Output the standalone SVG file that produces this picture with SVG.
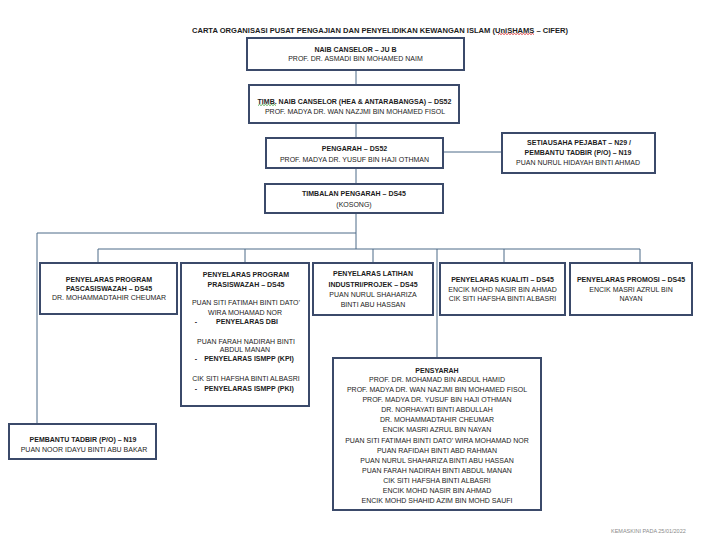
<svg xmlns="http://www.w3.org/2000/svg" width="709" height="543" viewBox="0 0 709 543">
<style>
text{font-family:"Liberation Sans",Arial,sans-serif;font-size:7px;fill:#1c1c1c;text-anchor:middle}
.b{font-weight:bold}
.t{font-weight:bold;font-size:7.4px}
.box{fill:#fff;stroke:#3b4a6a;stroke-width:2}
.con{stroke:#4d6a88;stroke-width:1;fill:none}
.sq{fill:none;stroke-width:0.8}
.foot{font-size:5.5px;fill:#8a8a8a;text-anchor:start}
</style>
<rect x="0" y="0" width="709" height="543" fill="#fff"/>
<text class="t" x="380" y="32.5" textLength="376" lengthAdjust="spacingAndGlyphs">CARTA ORGANISASI PUSAT PENGAJIAN DAN PENYELIDIKAN KEWANGAN ISLAM (UniSHAMS – CIFER)</text>
<path class="sq" stroke="#d02020" d="M498,34.5 l1.5,-1 l1.5,1 l1.5,-1 l1.5,1 l1.5,-1 l1.5,1 l1.5,-1 l1.5,1 l1.5,-1 l1.5,1 l1.5,-1 l1.5,1 l1.5,-1 l1.5,1 l1.5,-1 l1.5,1 l1.5,-1 l1.5,1 l1.5,-1 l1.5,1 l1.5,-1 l1.5,1 l1.5,-1 l1.5,1"/>
<g id="connectors">
<line class="con" x1="356" y1="70" x2="356" y2="85"/>
<line class="con" x1="356" y1="123" x2="356" y2="138"/>
<line class="con" x1="356" y1="168" x2="356" y2="184"/>
<line class="con" x1="356" y1="213" x2="356" y2="249"/>
<line class="con" x1="443" y1="152" x2="502" y2="152"/>
<line class="con" x1="37" y1="233" x2="356" y2="233"/>
<line class="con" x1="37" y1="233" x2="37" y2="424"/>
<line class="con" x1="98" y1="249" x2="640" y2="249"/>
<line class="con" x1="98" y1="249" x2="98" y2="263"/>
<line class="con" x1="245" y1="249" x2="245" y2="263"/>
<line class="con" x1="373" y1="249" x2="373" y2="263"/>
<line class="con" x1="504" y1="249" x2="504" y2="263"/>
<line class="con" x1="640" y1="249" x2="640" y2="263"/>
<line class="con" x1="437" y1="249" x2="437" y2="358"/>
</g>
<g id="naib-canselor">
<rect class="box" x="247" y="38" width="217" height="32"/>
<text class="b" x="355.5" y="51.5">NAIB CANSELOR – JU B</text>
<text x="355.5" y="60.5">PROF. DR. ASMADI BIN MOHAMED NAIM</text>
</g>
<g id="timb-naib-canselor">
<rect class="box" x="249" y="85" width="210" height="38"/>
<text class="b" x="354.5" y="103.5">TIMB. NAIB CANSELOR (HEA &amp; ANTARABANGSA) – DS52</text>
<path class="sq" stroke="#3a9a3a" d="M258,105.5 l1.5,-1 l1.5,1 l1.5,-1 l1.5,1 l1.5,-1 l1.5,1 l1.5,-1 l1.5,1 l1.5,-1 l1.5,1 l1.5,-1 l1.5,1"/>
<text x="355" y="113.5">PROF. MADYA DR. WAN NAZJMI BIN MOHAMED FISOL</text>
</g>
<g id="pengarah">
<rect class="box" x="266" y="138" width="177" height="30"/>
<text class="b" x="354.5" y="150.5">PENGARAH – DS52</text>
<text x="354.5" y="161.5">PROF. MADYA DR. YUSUF BIN HAJI OTHMAN</text>
</g>
<g id="setiausaha">
<rect class="box" x="502" y="133" width="153" height="40"/>
<text class="b" x="579" y="144.5">SETIAUSAHA PEJABAT – N29 /</text>
<text class="b" x="578" y="154.5">PEMBANTU TADBIR (P/O) – N19</text>
<text x="578" y="164.5">PUAN NURUL HIDAYAH BINTI AHMAD</text>
</g>
<g id="timbalan-pengarah">
<rect class="box" x="265" y="184" width="178" height="29"/>
<text class="b" x="354" y="195.5">TIMBALAN PENGARAH – DS45</text>
<text x="354" y="206.5">(KOSONG)</text>
</g>
<g id="pascasiswazah">
<rect class="box" x="40" y="263" width="137" height="51"/>
<text class="b" x="109" y="281.5">PENYELARAS PROGRAM</text>
<text class="b" x="109" y="290.5">PASCASISWAZAH – DS45</text>
<text x="109" y="299.5">DR. MOHAMMADTAHIR CHEUMAR</text>
</g>
<g id="prasiswazah">
<rect class="box" x="181" y="263" width="128" height="143"/>
<text class="b" x="246" y="276.5">PENYELARAS PROGRAM</text>
<text class="b" x="246" y="286.5">PRASISWAZAH – DS45</text>
<text x="246" y="305">PUAN SITI FATIMAH BINTI DATO’</text>
<text x="245" y="314.5">WIRA MOHAMAD NOR</text>
<text class="b" x="196" y="323.5">-</text>
<text class="b" x="247" y="323.5">PENYELARAS DBI</text>
<text x="246" y="343.5">PUAN FARAH NADIRAH BINTI</text>
<text x="245" y="352">ABDUL MANAN</text>
<text class="b" x="196" y="360.5">-</text>
<text class="b" x="249" y="360.5">PENYELARAS ISMPP (KPI)</text>
<text x="246" y="380.5">CIK SITI HAFSHA BINTI ALBASRI</text>
<text class="b" x="196" y="390.5">-</text>
<text class="b" x="249" y="390.5">PENYELARAS ISMPP (PKI)</text>
</g>
<g id="latihan">
<rect class="box" x="313" y="263" width="120" height="52"/>
<text class="b" x="373" y="275.5">PENYELARAS LATIHAN</text>
<text class="b" x="373" y="286.5">INDUSTRI/PROJEK – DS45</text>
<text x="373" y="296.5">PUAN NURUL SHAHARIZA</text>
<text x="373" y="306.5">BINTI ABU HASSAN</text>
</g>
<g id="kualiti">
<rect class="box" x="440" y="263" width="125" height="52"/>
<text class="b" x="502.5" y="281.5">PENYELARAS KUALITI – DS45</text>
<text x="502.5" y="291.5">ENCIK MOHD NASIR BIN AHMAD</text>
<text x="502.5" y="300.5">CIK SITI HAFSHA BINTI ALBASRI</text>
</g>
<g id="promosi">
<rect class="box" x="570" y="263" width="122" height="52"/>
<text class="b" x="631" y="281.5">PENYELARAS PROMOSI – DS45</text>
<text x="631" y="291.5">ENCIK MASRI AZRUL BIN</text>
<text x="631" y="300.5">NAYAN</text>
</g>
<g id="pensyarah">
<rect class="box" x="333" y="358" width="208" height="152"/>
<text class="b" x="437" y="372.5">PENSYARAH</text>
<text x="437" y="381.5">PROF. DR. MOHAMAD BIN ABDUL HAMID</text>
<text x="437" y="391.5">PROF. MADYA DR. WAN NAZJMI BIN MOHAMED FISOL</text>
<text x="437" y="401.5">PROF. MADYA DR. YUSUF BIN HAJI OTHMAN</text>
<text x="437" y="411.5">DR. NORHAYATI BINTI ABDULLAH</text>
<text x="437" y="421.5">DR. MOHAMMADTAHIR CHEUMAR</text>
<text x="437" y="432">ENCIK MASRI AZRUL BIN NAYAN</text>
<text x="437" y="442.5">PUAN SITI FATIMAH BINTI DATO’ WIRA MOHAMAD NOR</text>
<text x="437" y="453">PUAN RAFIDAH BINTI ABD RAHMAN</text>
<text x="437" y="462.5">PUAN NURUL SHAHARIZA BINTI ABU HASSAN</text>
<text x="437" y="473">PUAN FARAH NADIRAH BINTI ABDUL MANAN</text>
<text x="437" y="483">CIK SITI HAFSHA BINTI ALBASRI</text>
<text x="437" y="492.5">ENCIK MOHD NASIR BIN AHMAD</text>
<text x="437" y="502.5">ENCIK MOHD SHAHID AZIM BIN MOHD SAUFI</text>
</g>
<g id="pembantu-tadbir">
<rect class="box" x="9" y="424" width="147" height="35"/>
<text class="b" x="83" y="441.5">PEMBANTU TADBIR (P/O) – N19</text>
<text x="84" y="451.5">PUAN NOOR IDAYU BINTI ABU BAKAR</text>
</g>
<text class="foot" x="611" y="533">KEMASKINI PADA 25/01/2022</text>
</svg>
